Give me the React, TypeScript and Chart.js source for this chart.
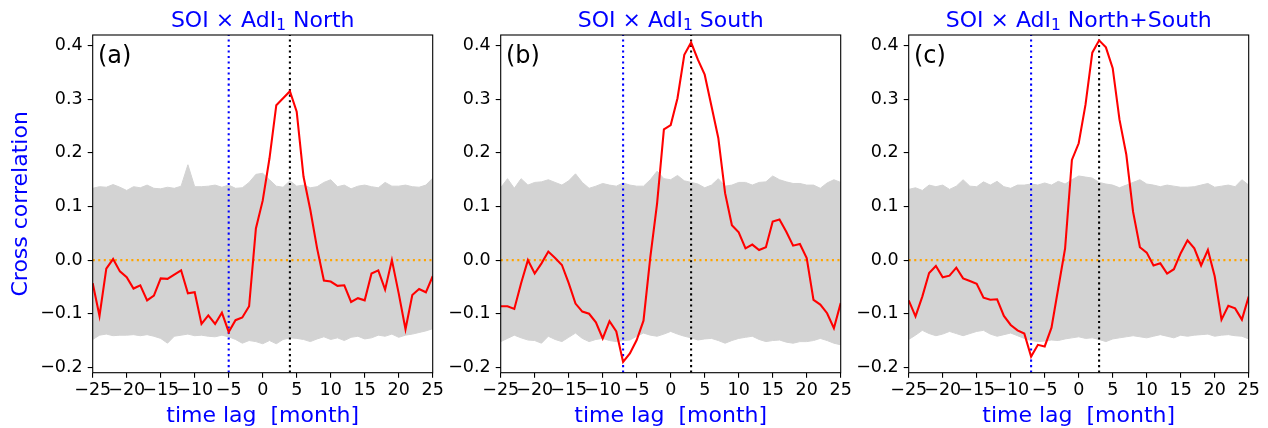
import React, { useEffect, useRef } from "react";
import { Chart, registerables } from "chart.js";

Chart.register(...registerables);

// ---------- data ----------
const LAGS = [
  -25, -24, -23, -22, -21, -20, -19, -18, -17, -16, -15, -14, -13, -12, -11, -10, -9, -8, -7, -6, -5, -4, -3, -2, -1,
  0, 1, 2, 3, 4, 5, 6, 7, 8, 9, 10, 11, 12, 13, 14, 15, 16, 17, 18, 19, 20, 21, 22, 23, 24, 25,
];

const RED_NORTH = [
  -0.043, -0.104, -0.016, 0.002, -0.021, -0.032, -0.053, -0.047, -0.075, -0.066, -0.034, -0.035, -0.027, -0.019, -0.062,
  -0.06, -0.119, -0.103, -0.119, -0.098, -0.134, -0.112, -0.107, -0.086, 0.059,
  0.111, 0.19, 0.289, 0.302, 0.315, 0.277, 0.156, 0.094, 0.022, -0.038, -0.04, -0.048, -0.047, -0.078, -0.071, -0.075,
  -0.025, -0.019, -0.055, 0.0, -0.062, -0.129, -0.065, -0.054, -0.06, -0.03,
];
const RED_SOUTH = [
  -0.086, -0.086, -0.091, -0.043, 0.0, -0.025, -0.006, 0.016, 0.004, -0.009, -0.043, -0.081, -0.096, -0.1, -0.116,
  -0.146, -0.114, -0.133, -0.19, -0.174, -0.149, -0.113, 0.005, 0.106, 0.244,
  0.252, 0.302, 0.383, 0.406, 0.374, 0.346, 0.287, 0.228, 0.125, 0.065, 0.052, 0.022, 0.029, 0.019, 0.024, 0.072,
  0.076, 0.053, 0.027, 0.03, 0.004, -0.074, -0.083, -0.099, -0.127, -0.08,
];
const RED_BOTH = [
  -0.075, -0.105, -0.068, -0.024, -0.011, -0.032, -0.029, -0.014, -0.034, -0.039, -0.044, -0.07, -0.074, -0.073, -0.104,
  -0.121, -0.131, -0.137, -0.18, -0.158, -0.161, -0.126, -0.052, 0.022, 0.187,
  0.218, 0.29, 0.387, 0.41, 0.397, 0.358, 0.262, 0.197, 0.09, 0.024, 0.014, -0.01, -0.006, -0.025, -0.017, 0.013,
  0.037, 0.022, -0.01, 0.019, -0.03, -0.111, -0.085, -0.09, -0.111, -0.068,
];

// envelope of the grey surrogate lines
const BAND_HI_NORTH = [
  0.134, 0.137, 0.136, 0.141, 0.136, 0.13, 0.137, 0.135, 0.14, 0.134, 0.133, 0.136, 0.134, 0.138, 0.178, 0.137, 0.137,
  0.138, 0.14, 0.136, 0.14, 0.134, 0.135, 0.145, 0.16, 0.162, 0.15, 0.138, 0.136, 0.148, 0.138, 0.14, 0.135, 0.137,
  0.145, 0.15, 0.137, 0.14, 0.133, 0.138, 0.14, 0.137, 0.135, 0.145, 0.138, 0.138, 0.14, 0.137, 0.136, 0.14, 0.153,
];
const BAND_LO_NORTH = [
  -0.148, -0.14, -0.138, -0.141, -0.14, -0.14, -0.139, -0.141, -0.139, -0.142, -0.146, -0.155, -0.142, -0.14, -0.138,
  -0.141, -0.14, -0.142, -0.143, -0.14, -0.143, -0.148, -0.155, -0.15, -0.152, -0.156, -0.15, -0.156, -0.148, -0.145,
  -0.146, -0.148, -0.152, -0.147, -0.143, -0.148, -0.145, -0.15, -0.144, -0.142, -0.147, -0.145, -0.14, -0.142, -0.138,
  -0.144, -0.14, -0.138, -0.135, -0.132, -0.128,
];
const BAND_HI_SOUTH = [
  0.135, 0.152, 0.134, 0.152, 0.14, 0.145, 0.146, 0.15, 0.145, 0.14, 0.148, 0.161, 0.145, 0.134, 0.138, 0.143, 0.14,
  0.138, 0.144, 0.14, 0.138, 0.138, 0.15, 0.166, 0.152, 0.15, 0.158, 0.148, 0.145, 0.142, 0.135, 0.14, 0.152, 0.138,
  0.14, 0.145, 0.145, 0.14, 0.145, 0.146, 0.157, 0.15, 0.146, 0.143, 0.143, 0.14, 0.14, 0.134, 0.144, 0.15, 0.145,
];
const BAND_LO_SOUTH = [
  -0.152, -0.146, -0.14, -0.145, -0.149, -0.15, -0.155, -0.142, -0.148, -0.152, -0.144, -0.136, -0.146, -0.152, -0.148,
  -0.146, -0.15, -0.152, -0.15, -0.149, -0.142, -0.136, -0.14, -0.142, -0.138, -0.133, -0.138, -0.142, -0.145, -0.149,
  -0.147, -0.146, -0.15, -0.155, -0.15, -0.146, -0.144, -0.142, -0.148, -0.152, -0.15, -0.149, -0.153, -0.155, -0.152,
  -0.152, -0.15, -0.146, -0.15, -0.155, -0.158,
];
const BAND_HI_BOTH = [
  0.132, 0.135, 0.13, 0.14, 0.137, 0.14, 0.132, 0.138, 0.15, 0.138, 0.137, 0.146, 0.14, 0.147, 0.137, 0.134, 0.14,
  0.14, 0.142, 0.14, 0.144, 0.14, 0.147, 0.142, 0.15, 0.157, 0.155, 0.153, 0.145, 0.142, 0.14, 0.135, 0.14, 0.145, 0.15,
  0.142, 0.14, 0.137, 0.14, 0.138, 0.136, 0.136, 0.137, 0.14, 0.143, 0.136, 0.138, 0.14, 0.137, 0.15, 0.14,
];
const BAND_LO_BOTH = [
  -0.148, -0.14, -0.131, -0.137, -0.141, -0.138, -0.133, -0.137, -0.141, -0.137, -0.133, -0.131, -0.138, -0.142, -0.139,
  -0.136, -0.141, -0.146, -0.15, -0.152, -0.151, -0.149, -0.15, -0.147, -0.145, -0.143, -0.146, -0.145, -0.148, -0.152,
  -0.147, -0.145, -0.143, -0.141, -0.143, -0.145, -0.142, -0.139, -0.142, -0.145, -0.14, -0.142, -0.14, -0.139, -0.138,
  -0.142, -0.14, -0.139, -0.141, -0.142, -0.147,
];

const RED_SERIES = [RED_NORTH, RED_SOUTH, RED_BOTH];
const BAND_HI = [BAND_HI_NORTH, BAND_HI_SOUTH, BAND_HI_BOTH];
const BAND_LO = [BAND_LO_NORTH, BAND_LO_SOUTH, BAND_LO_BOTH];
const BLUE_LAG = [-5, -7, -7];
const BLACK_LAG = [4, 3, 3];
const TITLE_REGION = ["North", "South", "North+South"];
const PANEL_LETTER = ["(a)", "(b)", "(c)"];

const X_TICKS = [-25, -20, -15, -10, -5, 0, 5, 10, 15, 20, 25];
const X_TICK_LABELS = ["−25", "−20", "−15", "−10", "−5", "0", "5", "10", "15", "20", "25"];
const Y_TICKS = [-0.2, -0.1, 0, 0.1, 0.2, 0.3, 0.4];
const Y_TICK_LABELS = ["−0.2", "−0.1", "0.0", "0.1", "0.2", "0.3", "0.4"];
const X_MIN = -25;
const X_MAX = 25;
const Y_MIN = -0.21;
const Y_MAX = 0.42;

// ---------- layout ----------
const W = 1268;
const H = 428;
const PANEL_LEFT = [92.7, 500.7, 908.7];
const PANEL_W = 340;
const PLOT_TOP = 35;
const PLOT_BOTTOM = 372.7;
const Y_AXIS_W = 92.7;
const FONT = "'DejaVu Sans', 'Liberation Sans', sans-serif";
const GREY = "#d3d3d3";
const DOT = [2.08, 3.44];

const decorPlugin = {
  id: "decor",
  afterDraw(chart: any, _args: any, opts: any) {
    const { ctx, chartArea: ca } = chart;
    ctx.save();
    // frame
    ctx.strokeStyle = "#000";
    ctx.lineWidth = 1.1;
    ctx.strokeRect(ca.left, ca.top, ca.right - ca.left, ca.bottom - ca.top);
    // panel letter
    ctx.fillStyle = "#000";
    ctx.textAlign = "left";
    ctx.textBaseline = "alphabetic";
    ctx.font = `24px ${FONT}`;
    ctx.fillText(opts.letter, ca.left + 5.3, ca.top + 27.5);
    // title with subscript
    const main = "SOI × AdI";
    const sub = "1";
    const rest = " " + opts.region;
    const bigFont = `22px ${FONT}`;
    const smallFont = `15.4px ${FONT}`;
    ctx.font = bigFont;
    const w1 = ctx.measureText(main).width;
    const w3 = ctx.measureText(rest).width;
    ctx.font = smallFont;
    const w2 = ctx.measureText(sub).width;
    const total = w1 + w2 + w3;
    const cx = (ca.left + ca.right) / 2;
    let x = cx - total / 2;
    const base = 26.7;
    ctx.fillStyle = "#0000ff";
    ctx.font = bigFont;
    ctx.fillText(main, x, base);
    x += w1;
    ctx.font = smallFont;
    ctx.fillText(sub, x, base + 2.8);
    x += w2;
    ctx.font = bigFont;
    ctx.fillText(rest, x, base);
    ctx.restore();
  },
};

function buildConfig(i: number): any {
  const pts = (ys: number[]) => LAGS.map((x, k) => ({ x, y: ys[k] }));
  const left = PANEL_LEFT[i];
  return {
    type: "line",
    data: {
      datasets: [
        {
          data: pts(BAND_HI[i]),
          borderColor: GREY,
          backgroundColor: GREY,
          borderWidth: 1,
          pointRadius: 0,
          fill: "+1",
          order: 5,
        },
        {
          data: pts(BAND_LO[i]),
          borderColor: GREY,
          borderWidth: 1,
          pointRadius: 0,
          fill: false,
          order: 4,
        },
        {
          data: [
            { x: X_MIN, y: 0 },
            { x: X_MAX, y: 0 },
          ],
          borderColor: "#ffa500",
          borderWidth: 2.08,
          borderDash: DOT,
          pointRadius: 0,
          fill: false,
          order: 3,
        },
        {
          data: [
            { x: BLUE_LAG[i], y: Y_MIN },
            { x: BLUE_LAG[i], y: Y_MAX },
          ],
          borderColor: "#0000ff",
          borderWidth: 2.08,
          borderDash: DOT,
          pointRadius: 0,
          fill: false,
          order: 2,
        },
        {
          data: [
            { x: BLACK_LAG[i], y: Y_MIN },
            { x: BLACK_LAG[i], y: Y_MAX },
          ],
          borderColor: "#000000",
          borderWidth: 2.08,
          borderDash: DOT,
          pointRadius: 0,
          fill: false,
          order: 1,
        },
        {
          data: pts(RED_SERIES[i]),
          borderColor: "#ff0000",
          borderWidth: 2.08,
          pointRadius: 0,
          fill: false,
          tension: 0,
          order: 0,
        },
      ],
    },
    options: {
      animation: false,
      responsive: false,
      devicePixelRatio: 1,
      events: [],
      layout: {
        padding: {
          left: left - Y_AXIS_W,
          right: W - (left + PANEL_W),
          top: PLOT_TOP,
          bottom: 0,
        },
      },
      plugins: {
        legend: { display: false },
        tooltip: { enabled: false },
        title: { display: false },
        decor: { letter: PANEL_LETTER[i], region: TITLE_REGION[i] },
      },
      scales: {
        x: {
          type: "linear",
          min: X_MIN,
          max: X_MAX,
          afterBuildTicks: (s: any) => {
            s.ticks = X_TICKS.map((v) => ({ value: v }));
          },
          afterFit: (s: any) => {
            s.height = H - PLOT_BOTTOM;
            s.paddingLeft = 0;
            s.paddingRight = 0;
          },
          ticks: {
            autoSkip: false,
            maxRotation: 0,
            minRotation: 0,
            padding: 2.4,
            color: "#000",
            font: { family: FONT, size: 17.5 },
            callback: (_v: any, k: number) => X_TICK_LABELS[k],
          },
          grid: { drawOnChartArea: false, drawTicks: true, tickLength: 5, color: "#000", lineWidth: 1.1 },
          border: { display: false },
          title: {
            display: true,
            text: "time lag  [month]",
            color: "#0000ff",
            font: { family: FONT, size: 22 },
            padding: { top: 0, bottom: -1.7 },
          },
        },
        y: {
          type: "linear",
          min: Y_MIN,
          max: Y_MAX,
          afterBuildTicks: (s: any) => {
            s.ticks = Y_TICKS.map((v) => ({ value: v }));
          },
          afterFit: (s: any) => {
            s.width = Y_AXIS_W;
            s.paddingTop = 0;
            s.paddingBottom = 0;
          },
          ticks: {
            autoSkip: false,
            padding: 5,
            color: "#000",
            font: { family: FONT, size: 17.5 },
            callback: (_v: any, k: number) => Y_TICK_LABELS[k],
          },
          grid: { drawOnChartArea: false, drawTicks: true, tickLength: 5, color: "#000", lineWidth: 1.1 },
          border: { display: false },
          title: {
            display: i === 0,
            text: "Cross correlation",
            color: "#0000ff",
            font: { family: FONT, size: 22 },
            padding: { top: 7.6, bottom: 0 },
          },
        },
      },
    },
    plugins: [decorPlugin],
  };
}

function Panel({ index }: { index: number }) {
  const ref = useRef<HTMLCanvasElement | null>(null);
  useEffect(() => {
    if (!ref.current) return;
    const chart = new Chart(ref.current, buildConfig(index));
    return () => chart.destroy();
  }, [index]);
  return (
    <canvas
      ref={ref}
      width={W}
      height={H}
      style={{ position: "absolute", left: 0, top: 0, width: W, height: H, display: "block" }}
    />
  );
}

export default function App() {
  return (
    <div style={{ position: "absolute", left: 0, top: 0, width: W, height: H, background: "#fff" }}>
      <Panel index={0} />
      <Panel index={1} />
      <Panel index={2} />
    </div>
  );
}
